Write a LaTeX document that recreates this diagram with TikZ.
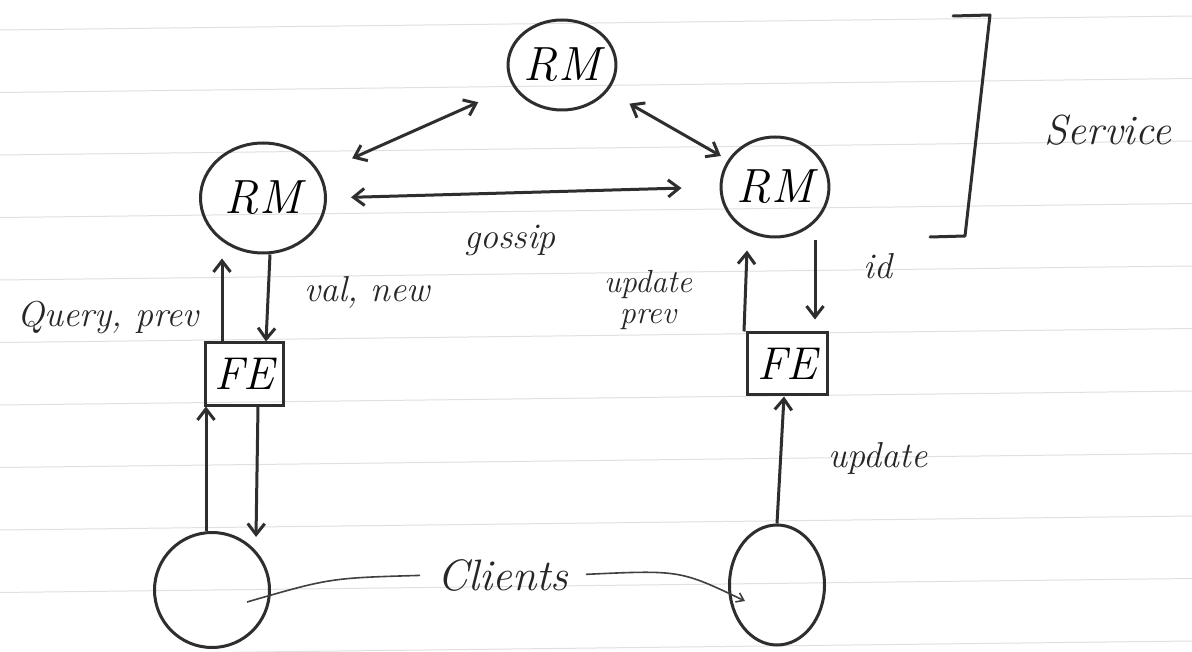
\documentclass[tikz,border=0pt]{standalone}
\usepackage{fontspec}
\usetikzlibrary{arrows.meta,shapes.geometric}
\begin{document}
\begin{tikzpicture}[x=1pt,y=-1pt,
  ink/.style={draw=black!82, line width=3pt},
  tip/.style={ink, -{Straight Barb[length=11pt,width=17pt,line width=3pt]}},
  dtip/.style={ink, {Straight Barb[length=11pt,width=17pt,line width=3pt]}-{Straight Barb[length=11pt,width=17pt,line width=3pt]}},
  thin/.style={draw=black!75, line width=1.6pt},
  rm/.style={ellipse, ink, inner sep=0pt, font=\fontsize{48}{52}\selectfont\itshape},
  fe/.style={rectangle, ink, inner sep=0pt, font=\fontsize{46}{50}\selectfont\itshape},
  client/.style={ellipse, ink, inner sep=0pt},
  lab/.style={font=\fontsize{36}{38}\selectfont\itshape, text=black!85, align=center},
  rule/.style={draw=black!12, line width=1pt}]
\useasboundingbox (0,0) rectangle (1192,652);
\fill[white] (0,0) rectangle (1192,652);
% ruled paper lines
\foreach \k in {0,...,10} \draw[rule] (0,{30+62.5*\k}) -- (1192,{16+62.5*\k});
% nodes
\node[rm, minimum width=100pt, minimum height=90pt] (rmT) at (562,65) {RM};
\node[rm, minimum width=125pt, minimum height=110pt] (rmL) at (263,198) {RM};
\node[rm, minimum width=90pt, minimum height=100pt] (rmR) at (775,187) {RM};
\node[fe, minimum width=78pt, minimum height=62pt] (feL) at (244,374) {FE};
\node[fe, minimum width=80pt, minimum height=62pt] (feR) at (787,364) {FE};
\node[client, minimum width=115pt, minimum height=115pt] (clL) at (212,590) {};
\node[client, minimum width=95pt, minimum height=120pt] (clR) at (777,585) {};
% labels
\node[lab] (gossip) at (510,240) {gossip};
\node[lab] (qp) at (108,318) {Query, prev};
\node[lab] (vn) at (367,292) {val, new};
\node[lab, font=\fontsize{32}{32}\selectfont\itshape] (up) at (648,300) {update\\prev};
\node[lab] (id) at (878,266) {id};
\node[lab] (upd) at (878,458) {update};
\node[lab, font=\fontsize{44}{48}\selectfont\itshape] (clients) at (503,575) {Clients};
\node[lab, font=\fontsize{42}{46}\selectfont\itshape] (service) at (1108,130) {Service};
% RM to RM
\draw[dtip, shorten <=38pt, shorten >=35pt] (rmT) -- (rmL);
\draw[dtip, shorten <=25pt, shorten >=8pt] (rmT) -- (rmR);
\draw[dtip, shorten <=24pt, shorten >=38pt] (rmL.east) -- (rmR.west);
% left column
\draw[tip] ([xshift=-22pt]feL.north) -- ([xshift=-22pt,yshift=-4pt]feL.north |- rmL.south);
\draw[tip] ([xshift=26pt]feL.north |- rmL.south) -- ([xshift=22pt]feL.north);
\draw[tip] ([xshift=-38pt]feL.south |- clL.north) -- ([xshift=-38pt]feL.south);
\draw[tip] ([xshift=14pt]feL.south) -- ([xshift=12pt,yshift=-6pt]feL.south |- clL.north);
% right column
\draw[tip] ([xshift=-43pt]feR.north) -- ([xshift=-40pt,yshift=-12pt]feR.north |- rmR.south);
\draw[tip, shorten >=12pt] ([xshift=28pt,yshift=-2pt]feR.north |- rmR.south) -- ([xshift=28pt]feR.north);
\draw[tip] (clR.north) -- ([xshift=-3pt]feR.south);
% clients pointers
\draw[thin, shorten <=14pt] (clients.west) .. controls (330,578) .. ([xshift=35pt,yshift=-12pt]clL.center);
\draw[thin, shorten <=14pt, -{Straight Barb[length=7pt,width=10pt]}] (clients.east) .. controls (680,570) .. ([xshift=-32pt,yshift=-16pt]clR.center);
% service bracket
\draw[ink, line cap=round, line join=round] (930,237) -- (965,236) -- (990,15) -- (953,16);
\end{tikzpicture}
\end{document}
